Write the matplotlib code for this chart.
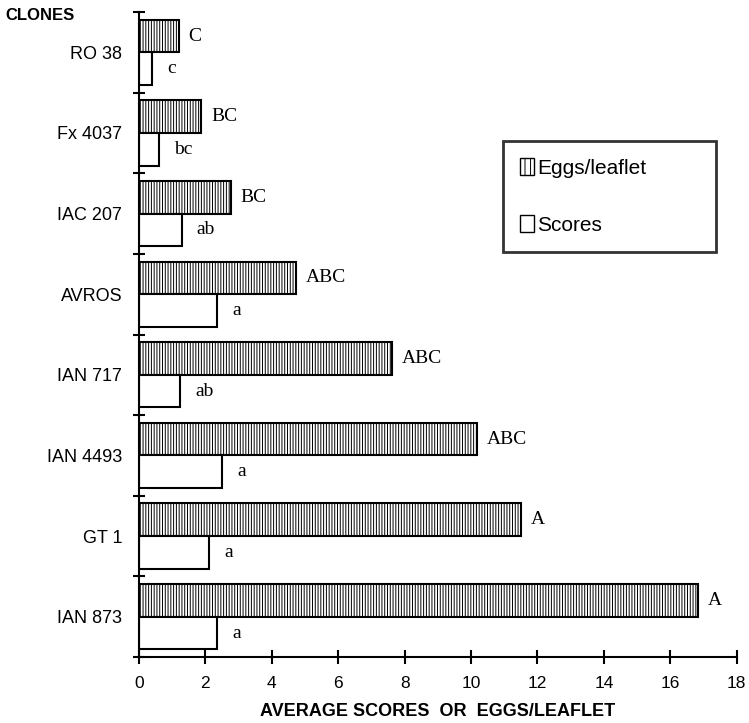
import numpy as np
import matplotlib.pyplot as plt
from matplotlib.patches import Patch

clones = ["IAN 873", "GT 1", "IAN 4493", "IAN 717", "AVROS", "IAC 207", "Fx 4037", "RO 38"]
eggs = [16.84, 11.5, 10.17, 7.63, 4.72, 2.77, 1.88, 1.19]
scores = [2.36, 2.11, 2.49, 1.23, 2.36, 1.28, 0.59, 0.40]
eggs_letters = ["A", "A", "ABC", "ABC", "ABC", "BC", "BC", "C"]
scores_letters = ["a", "a", "a", "ab", "a", "ab", "bc", "c"]

plt.rcParams['hatch.linewidth'] = 0.7

fig = plt.figure(figsize=(7.49, 7.23), dpi=100)
ax = fig.add_axes([0.1856, 0.0913, 0.798, 0.892])

y = np.arange(len(clones))
h = 0.405
ax.barh(y + h / 2, eggs, height=h, color="white", edgecolor="black",
        hatch="||||||", linewidth=1.5, label="Eggs/leaflet")
ax.barh(y - h / 2, scores, height=h, color="white", edgecolor="black",
        linewidth=1.5, label="Scores")

for i in range(len(clones)):
    ax.annotate(eggs_letters[i], (eggs[i], y[i] + h / 2), xytext=(7, 0),
                textcoords="offset points", va="center", ha="left",
                fontsize=14, family="Liberation Serif")
    ax.annotate(scores_letters[i], (scores[i], y[i] - h / 2), xytext=(11, 0),
                textcoords="offset points", va="center", ha="left",
                fontsize=14, family="Liberation Serif")

ax.set_xlim(0, 18)
ax.set_ylim(-0.5, len(clones) - 0.5)
ax.set_xticks(np.arange(0, 19, 2))
ax.set_yticks(y)
ax.set_yticklabels(clones, family="Liberation Sans", fontsize=13)
ax.set_yticks(np.arange(-0.5, len(clones), 1), minor=True)
ax.tick_params(axis="y", which="major", length=0, pad=12)
ax.tick_params(axis="y", which="minor", direction="inout", length=9, width=1.5)
ax.tick_params(axis="x", direction="inout", length=10, width=1.5, pad=9, labelsize=12.5)
for lab in ax.get_xticklabels():
    lab.set_family("Liberation Sans")

for s in ["top", "right"]:
    ax.spines[s].set_visible(False)
for s in ["left", "bottom"]:
    ax.spines[s].set_linewidth(1.5)

ax.set_xlabel("AVERAGE SCORES  OR  EGGS/LEAFLET", fontsize=13,
              fontweight="bold", family="Liberation Sans", labelpad=8)
fig.text(0.007, 0.978, "CLONES", fontsize=12, fontweight="bold",
         family="Liberation Sans", va="center", ha="left")

handles = [Patch(facecolor="white", edgecolor="black", hatch="|||", linewidth=1),
           Patch(facecolor="white", edgecolor="black", linewidth=1)]
leg = ax.legend(handles, ["Eggs/leaflet", "Scores"], loc="upper left",
                bbox_to_anchor=(0.609, 0.622, 0.356, 0.178), mode="expand",
                frameon=True, fancybox=False,
                handlelength=0.7, handleheight=0.9, handletextpad=0.15,
                borderpad=0.8, labelspacing=1.8, borderaxespad=0,
                prop={"family": "Liberation Sans", "size": 15})
leg.get_frame().set_edgecolor("black")
leg.get_frame().set_linewidth(2)

fig.savefig("out.png", dpi=100)
